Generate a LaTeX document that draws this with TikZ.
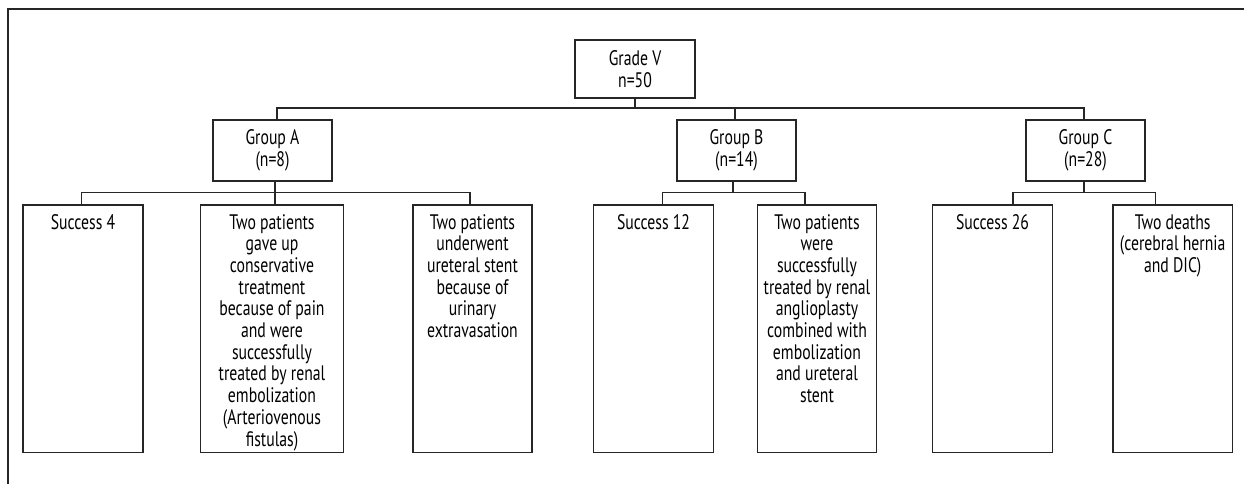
\documentclass[tikz,border=0pt]{standalone}
\usepackage{fontspec}
\setmainfont[FakeStretch=0.75]{PT Sans}
\usetikzlibrary{calc}
\newcommand\leafbox[2]{\parbox[c][123.85pt][t]{#1}{\centering\rule{0pt}{12pt}#2}}
\begin{document}
\begin{tikzpicture}[x=0.5pt,y=-0.5pt,
  line width=0.65pt,
  every node/.style={font=\fontsize{10.5}{10.85}\selectfont, text=black},
  grp/.style={draw=black!85, line width=0.7pt, inner sep=0pt, align=center, minimum width=59.5pt, minimum height=30.5pt},
  top/.style={grp, minimum width=60pt, minimum height=29pt},
  leaf/.style={draw=black!85, line width=0.7pt, inner sep=0pt},
  conn/.style={draw=black!85, line width=0.65pt}]
\useasboundingbox (0,0) rectangle (1244,484);
% outer frame (partial)
\draw[black!85, line width=0.6pt] (1244,9) -- (8,9) -- (8,484);

\node[top] (grade) at (635,69) {Grade V\\n=50};
\node[grp] (gA) at (272.5,150.5) {Group A\\(n=8)};
\node[grp] (gB) at (736.5,150.5) {Group B\\(n=14)};
\node[grp] (gC) at (1085.5,150.5) {Group C\\(n=28)};

\node[leaf] (a1) at (83,328.85) {\leafbox{60pt}{Success 4}};
\node[leaf] (a2) at (272,328.85) {\leafbox{71.3pt}{Two patients\\gave up\\conservative\\treatment\\because of pain\\and were\\successfully\\treated by renal\\embolization\\(Arteriovenous\\fistulas)}};
\node[leaf] (a3) at (472.5,328.85) {\leafbox{59.5pt}{Two patients\\underwent\\ureteral stent\\because of\\urinary\\extravasation}};
\node[leaf] (b1) at (653.5,328.85) {\leafbox{59.8pt}{Success 12}};
\node[leaf] (b2) at (817,328.85) {\leafbox{59.5pt}{Two patients\\were\\successfully\\treated by renal\\anglioplasty\\combined with\\embolization\\and ureteral\\stent}};
\node[leaf] (c1) at (992.5,328.85) {\leafbox{59.8pt}{Success 26}};
\node[leaf] (c2) at (1172.7,328.85) {\leafbox{59.6pt}{Two deaths\\(cerebral hernia\\and DIC)}};

% top level connectors
\coordinate (bar0) at (635,108);
\draw[conn] (grade.south) -- (bar0);
\draw[conn] ($(gA.north)+(4.5,0)$) |- (bar0) -| ($(gC.north)+(-1.5,0)$);
\draw[conn] ($(gB.north)+(-1.5,0)$) -- ($(gB.north)+(-1.5,-12)$);

% group A
\coordinate (barA) at (275,192.7);
\draw[conn] ($(gA.south)+(2.5,0)$) -- ($(a2.north)+(3,0)$);
\draw[conn] ($(a1.north)+(-1.3,0)$) |- (barA) -| ($(a3.north)+(-2.5,0)$);

% group B
\coordinate (barB) at (733,192.7);
\draw[conn] ($(gB.south)+(-3.5,0)$) -- (barB);
\draw[conn] ($(b1.north)+(9.2,0)$) |- (barB) -| ($(b2.north)+(-12,0)$);

% group C
\coordinate (barC) at (1084,192.7);
\draw[conn] ($(gC.south)+(-1.5,0)$) -- (barC);
\draw[conn] ($(c1.north)+(20.5,0)$) |- (barC) -| ($(c2.north)+(-17,0)$);
\end{tikzpicture}
\end{document}
